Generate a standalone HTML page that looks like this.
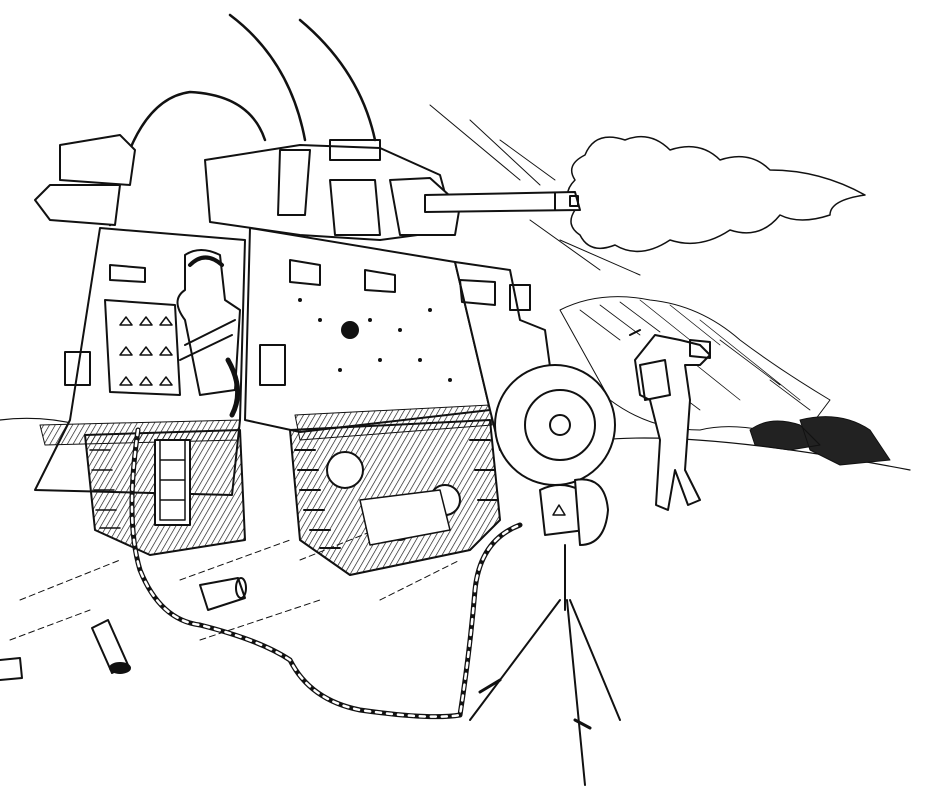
<!DOCTYPE html>
<html><head><meta charset="utf-8"><style>
html,body{margin:0;padding:0;background:#fff;width:946px;height:800px;overflow:hidden}
svg{display:block}
</style></head><body>
<svg width="946" height="800" viewBox="0 0 946 800" xmlns="http://www.w3.org/2000/svg" fill="none" stroke="#111" stroke-width="2" stroke-linejoin="round" stroke-linecap="round">
<defs>
<pattern id="h" width="5" height="5" patternUnits="userSpaceOnUse" patternTransform="rotate(30)"><line x1="0" y1="0" x2="0" y2="5" stroke="#111" stroke-width="1.3"/></pattern>
</defs>
<!-- ground lines -->
<path d="M0 420 Q40 415 80 425 M600 440 Q700 430 910 470" stroke-width="1.2"/>
<path d="M20 600 L120 560 M10 640 L90 610 M180 580 L290 540 M200 640 L320 600 M300 560 L400 520 M380 600 L460 560" stroke-width="1" stroke-dasharray="6 4"/>
<!-- smoke right -->
<path d="M560 310 Q600 290 650 300 Q700 305 740 340 Q780 370 830 400 L800 440 Q740 420 700 430 Q650 430 610 400 Z" stroke-width="1"/>
<g stroke-width="0.8">
<path d="M580 310 L620 340 M600 305 L640 335 M620 302 L660 332 M640 300 L690 340 M670 305 L720 345 M700 320 L750 360 M720 340 L780 385 M750 360 L800 400 M770 380 L810 410 M690 360 L740 400 M660 380 L700 410"/>
</g>
<!-- wreck -->
<path d="M750 430 Q770 415 800 425 L820 445 L790 450 L755 445 Z M800 420 Q840 410 870 430 L890 460 L840 465 L810 450 Z" fill="#222" stroke-width="1"/>
<!-- muzzle flash cloud -->
<path d="M585 155 Q595 130 625 140 Q650 130 670 150 Q700 140 720 160 Q750 150 770 170 Q820 170 865 195 Q830 200 830 215 Q800 225 780 215 Q760 240 730 230 Q700 250 670 240 Q640 260 615 245 Q590 255 580 235 Q565 225 575 210 Q560 195 575 180 Q565 165 585 155 Z" stroke-width="1.5"/>
<path d="M430 105 L520 180 M470 120 L540 185 M500 140 L555 180 M530 220 L600 270 M560 240 L640 275" stroke-width="1"/>
<!-- antennas -->
<path d="M230 15 Q290 60 305 140 M300 20 Q360 70 375 140" stroke-width="2.5"/>
<path d="M110 225 Q130 100 190 92 Q250 95 265 140" stroke-width="2.5"/>
<!-- turret -->
<path d="M205 160 L300 145 L380 148 L440 175 L455 230 L380 240 L300 235 L210 222 Z" fill="#fff"/>
<path d="M330 140 L380 140 L380 160 L330 160 Z M330 180 L375 180 L380 235 L335 235 Z M280 150 L310 150 L305 215 L278 215 Z"/>
<path d="M390 180 L430 178 L460 205 L455 235 L400 235 Z" fill="#fff"/>
<!-- gun barrel -->
<path d="M425 195 L575 192 L580 210 L425 212 Z" fill="#fff"/>
<path d="M555 193 L555 210 M570 196 L578 196 L578 206 L570 206 Z"/>
<!-- rear box left -->
<path d="M60 145 L120 135 L135 150 L130 185 L60 180 Z M50 185 L120 185 L115 225 L50 220 L35 200 Z" fill="#fff"/>
<!-- left armor plate -->
<path d="M100 228 L245 240 L240 420 L232 495 L35 490 L70 420 Z" fill="#fff"/>
<path d="M110 265 L145 268 L145 282 L110 280 Z M105 300 L175 305 L180 395 L110 392 Z M65 352 L90 352 L90 385 L65 385 Z"/>
<g stroke-width="1.5"><path d="M120 325 l6 -8 l6 8 z M140 325 l6 -8 l6 8 z M160 325 l6 -8 l6 8 z M120 355 l6 -8 l6 8 z M140 355 l6 -8 l6 8 z M160 355 l6 -8 l6 8 z M120 385 l6 -8 l6 8 z M140 385 l6 -8 l6 8 z M160 385 l6 -8 l6 8 z"/></g>
<!-- soldier in hatch -->
<path d="M185 255 Q200 245 220 255 L225 300 L240 310 L235 390 L200 395 L185 320 Q170 300 185 290 Z" fill="#fff"/>
<path d="M190 265 Q205 250 222 265" stroke-width="4"/>
<path d="M185 345 L235 320 M180 360 L232 335" stroke-width="2"/>
<path d="M228 360 Q245 390 232 415" stroke-width="5"/>
<!-- main rear plate -->
<path d="M250 228 L455 262 L490 410 L300 432 L245 420 Z" fill="#fff"/>
<path d="M290 260 L320 265 L320 285 L290 282 Z M365 270 L395 275 L395 292 L365 290 Z M260 345 L285 345 L285 385 L260 385 Z"/>
<circle cx="350" cy="330" r="8" fill="#111"/>
<g fill="#111" stroke="none"><circle cx="320" cy="320" r="2"/><circle cx="370" cy="320" r="2"/><circle cx="400" cy="330" r="2"/><circle cx="430" cy="310" r="2"/><circle cx="340" cy="370" r="2"/><circle cx="380" cy="360" r="2"/><circle cx="420" cy="360" r="2"/><circle cx="300" cy="300" r="2"/><circle cx="450" cy="380" r="2"/></g>
<!-- shadow band under hull -->
<path d="M295 415 L490 405 L492 425 L300 440 Z" fill="url(#h)" stroke-width="1"/>
<path d="M40 425 L240 420 L238 440 L45 445 Z" fill="url(#h)" stroke-width="1"/>
<!-- side hull right -->
<path d="M455 262 L510 270 L520 320 L545 330 L560 440 L500 450 L490 410 Z" fill="#fff"/>
<path d="M460 280 L495 282 L495 305 L462 302 Z M510 285 L530 285 L530 310 L510 310 Z"/>
<!-- wheel -->
<circle cx="555" cy="425" r="60" fill="#fff"/>
<circle cx="560" cy="425" r="35"/>
<circle cx="560" cy="425" r="10"/>
<!-- left track -->
<path d="M85 435 L240 430 L245 540 L150 555 L95 530 Z" fill="url(#h)"/>
<path d="M155 440 L190 440 L190 525 L155 525 Z" fill="#fff"/>
<g stroke-width="1.5"><path d="M90 450 h20 M92 470 h20 M94 490 h20 M96 510 h20 M100 528 h20 M160 440 L160 520 L185 520 L185 440 M160 460 h25 M160 480 h25 M160 500 h25"/></g>
<!-- right track -->
<path d="M290 430 L490 420 L500 520 L470 550 L350 575 L300 540 Z" fill="url(#h)"/>
<circle cx="345" cy="470" r="18" fill="#fff"/><circle cx="445" cy="500" r="15" fill="#fff"/><circle cx="400" cy="530" r="10" fill="#fff"/>
<path d="M360 500 L440 490 L450 530 L370 545 Z" fill="#fff" stroke-width="1.5"/>
<g stroke-width="2"><path d="M295 450 h20 M298 470 h20 M300 490 h20 M304 510 h20 M310 530 h20 M320 548 h20 M470 440 h20 M475 470 h20 M478 500 h20"/></g>
<!-- cable -->
<path d="M138 430 Q125 520 140 570 Q160 620 200 625 Q260 640 290 660 Q310 700 360 710 Q430 720 460 715 Q470 650 475 590 Q480 540 520 525" stroke-width="5"/>
<path d="M138 430 Q125 520 140 570 Q160 620 200 625 Q260 640 290 660 Q310 700 360 710 Q430 720 460 715 Q470 650 475 590 Q480 540 520 525" stroke="#fff" stroke-width="2.5" stroke-dasharray="5 6"/>
<!-- tripod device -->
<path d="M540 490 Q560 480 580 490 L585 530 L545 535 Z" fill="#fff"/>
<path d="M575 480 Q605 475 608 510 Q605 545 580 545 L575 480 Z" fill="#fff"/>
<path d="M553 515 l6 -10 l6 10 z" stroke-width="1.5"/>
<path d="M565 545 L565 610 M560 600 L470 720 M567 600 L585 785 M570 600 L620 720" stroke-width="2"/>
<path d="M500 680 L480 692 M575 720 L590 728" stroke-width="3"/>
<!-- standing figure -->
<path d="M655 335 L680 340 L700 345 L710 355 L700 365 L685 365 L690 400 L685 470 L700 500 L688 505 L675 470 L668 510 L656 505 L660 440 L650 400 L640 395 L635 360 Z" fill="#fff"/>
<path d="M640 365 L665 360 L670 395 L645 400 Z M690 340 L710 342 L710 358 L690 356 Z"/>
<path d="M630 335 L640 330" />
<!-- shell casings -->
<path d="M200 585 L238 578 L245 598 L208 610 Z" fill="#fff"/>
<ellipse cx="241" cy="588" rx="5" ry="10"/>
<path d="M92 628 L108 620 L128 665 L112 673 Z" fill="#fff"/>
<ellipse cx="120" cy="668" rx="10" ry="5" fill="#111"/>
<path d="M0 660 L20 658 L22 678 L0 680" fill="#fff"/>
</svg>
</body></html>
